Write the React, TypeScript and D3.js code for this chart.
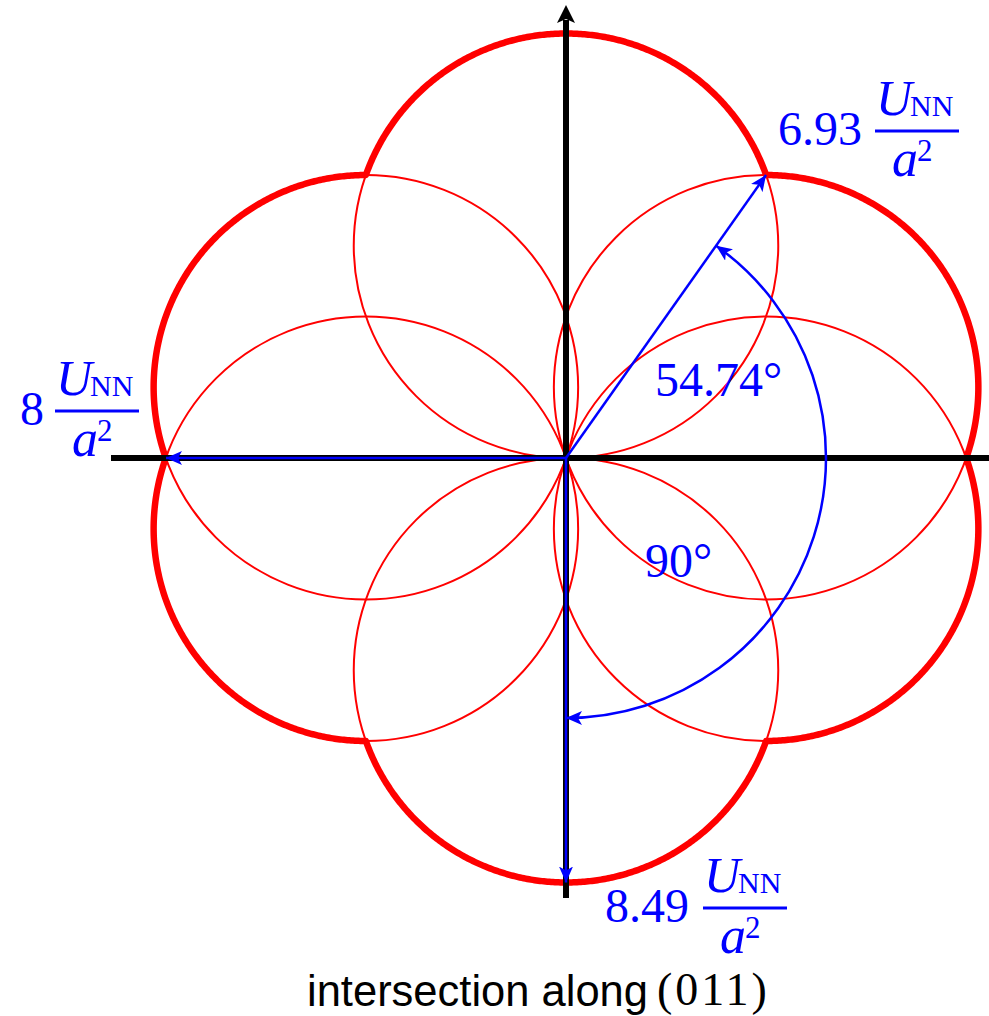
import React from "react";
import * as d3 from "d3";

// Bond-sum circles in the (011) plane: every circle passes through the origin
// with the given diameter along the given direction (degrees, counter-clockwise from +x).
const circleDirections = [90, 19.47, -19.47, -90, -160.53, 160.53];
const circleDiameter = 8.49;

// Radius vectors drawn in blue, with their values (units of U_NN / a^2).
const vectorValues = [8, 6.93, 8.49];
const vectorAngles = [180, 54.74, -90];
const vectorLabels = ["8", "6.93", "8.49"];

// Angle arc between the [111]-type vector and the vertical axis.
const arcFrom = 54.74;
const arcTo = -90;
const arcRadius = 5.2;
const angleLabels = ["54.74°", "90°"];

const titleText = "intersection along ";
const titlePlane = "(011)";

const W = 989;
const H = 1016;
const CX = 566;
const CY = 458;
const RED = "#ff0000";
const BLUE = "#0000ff";
const SERIF = "'Liberation Serif', 'Times New Roman', serif";
const SANS = "'Liberation Sans', Arial, sans-serif";

const rad = (deg: number) => (deg * Math.PI) / 180;
const rScale = d3.scaleLinear().domain([0, circleDiameter]).range([0, 424.5]);

const polar = (value: number, deg: number): [number, number] => [
  CX + rScale(value) * Math.cos(rad(deg)),
  CY - rScale(value) * Math.sin(rad(deg)),
];

// Outer envelope: largest circle radius at each polar angle.
const envelopeRadius = (deg: number) =>
  d3.max(circleDirections, (phi) => circleDiameter * Math.cos(rad(deg - phi))) as number;

const envelopePath = d3
  .lineRadial<number>()
  .angle((deg) => Math.PI / 2 - rad(deg))
  .radius((deg) => rScale(envelopeRadius(deg)))
  .curve(d3.curveLinearClosed)(d3.range(0, 360, 0.25)) as string;

const arcPath = (() => {
  const p = d3.path();
  p.arc(CX, CY, rScale(arcRadius), -rad(arcFrom), -rad(arcTo), false);
  return p.toString();
})();

// Fraction label: number followed by U_NN / a^2.
const labelLayout = [
  { x: 20, y: 425, bar: 55 },
  { x: 778, y: 145, bar: 875 },
  { x: 605, y: 922, bar: 703 },
];

function FractionLabel({ text, x, y, bar }: { text: string; x: number; y: number; bar: number }) {
  return (
    <g fill={BLUE} fontFamily={SERIF}>
      <text x={x} y={y} fontSize={48}>
        {text}
      </text>
      <line x1={bar} x2={bar + 84} y1={y - 14} y2={y - 14} stroke={BLUE} strokeWidth={3} />
      <text x={bar + 1} y={y - 30} fontSize={50} fontStyle="italic">
        U
      </text>
      <text x={bar + 35} y={y - 29} fontSize={30}>
        NN
      </text>
      <text x={bar + 17} y={y + 31} fontSize={52} fontStyle="italic">
        a
      </text>
      <text x={bar + 42} y={y + 16} fontSize={31}>
        2
      </text>
    </g>
  );
}

export default function App() {
  const vectors = vectorValues.map((v, i) => polar(v, vectorAngles[i]));
  return (
    <svg
      width={W}
      height={H}
      viewBox={`0 0 ${W} ${H}`}
      style={{ position: "absolute", left: 0, top: 0, background: "#fff" }}
    >
      <defs>
        <marker
          id="blueHead"
          markerUnits="userSpaceOnUse"
          viewBox="0 0 16 14"
          refX={16}
          refY={7}
          markerWidth={16}
          markerHeight={14}
          orient="auto-start-reverse"
        >
          <path d="M0,0 L16,7 L0,14 L4,7 Z" fill={BLUE} />
        </marker>
      </defs>

      {/* thin full circles */}
      <g fill="none" stroke={RED} strokeWidth={2}>
        {circleDirections.map((phi, i) => {
          const [cx, cy] = polar(circleDiameter / 2, phi);
          return <circle key={i} cx={cx} cy={cy} r={rScale(circleDiameter / 2)} />;
        })}
      </g>

      {/* outer envelope */}
      <path
        d={envelopePath}
        transform={`translate(${CX},${CY})`}
        fill="none"
        stroke={RED}
        strokeWidth={6.5}
        strokeLinejoin="round"
      />

      {/* axes */}
      <g stroke="#000" strokeWidth={6}>
        <line x1={111} x2={W} y1={CY} y2={CY} />
        <line x1={CX} x2={CX} y1={20} y2={898} />
      </g>
      <path d={`M${CX},5 L${CX + 9},23 L${CX},19 L${CX - 9},23 Z`} fill="#000" />

      {/* vectors */}
      <g stroke={BLUE} strokeWidth={2.5} fill="none">
        {vectors.map(([x, y], i) => (
          <line key={i} x1={CX} y1={CY} x2={x} y2={y} markerEnd="url(#blueHead)" />
        ))}
        <path d={arcPath} markerStart="url(#blueHead)" markerEnd="url(#blueHead)" />
      </g>

      {/* labels */}
      {vectorLabels.map((t, i) => (
        <FractionLabel key={i} text={t} {...labelLayout[i]} />
      ))}
      <g fill={BLUE} fontFamily={SERIF} fontSize={48}>
        <text x={655} y={396}>
          {angleLabels[0]}
        </text>
        <text x={645} y={577}>
          {angleLabels[1]}
        </text>
      </g>

      <text x={307} y={1006} fontFamily={SANS} fontSize={43.5} fill="#000">
        {titleText}
      </text>
      <text x={657} y={1005} fontFamily={SERIF} fontSize={46} fill="#000" letterSpacing={3}>
        {titlePlane}
      </text>
    </svg>
  );
}
